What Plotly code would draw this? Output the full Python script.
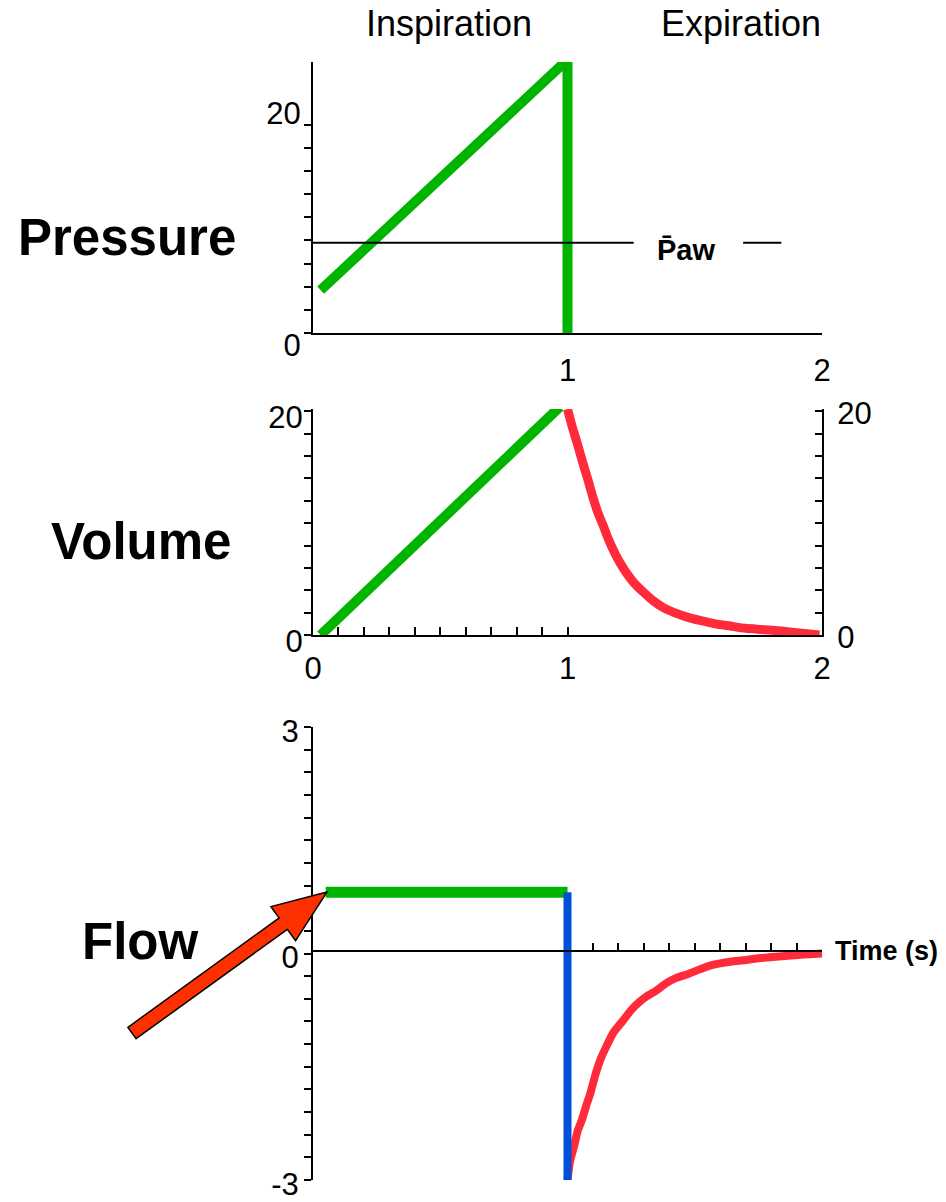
import numpy as np
import plotly.graph_objects as go

# ---------------- data ----------------
# Pressure (inspiration ramp, then drop at t = 1 s)
p_time = [0.03, 1.0, 1.0]
p_vals = [3.7, 23.6, 0.0]
paw_level = 7.8
paw_x1 = [0.0, 1.26]
paw_x2 = [1.69, 1.84]

# Volume
v_insp_time = [0.03, 0.97]
v_insp_vals = [0.0, 20.4]
v_exp_time = [1.00, 1.02, 1.04, 1.06, 1.08, 1.10, 1.12, 1.14, 1.16, 1.18, 1.20,
              1.23, 1.26, 1.30, 1.34, 1.38, 1.42, 1.47, 1.52, 1.58, 1.64, 1.70,
              1.76, 1.82, 1.88, 1.94, 1.99]
v_exp_vals = [20.2, 18.5, 17.0, 15.4, 13.9, 12.3, 10.9, 9.8, 8.6, 7.6, 6.7,
              5.6, 4.7, 3.8, 3.0, 2.4, 2.0, 1.6, 1.3, 1.0, 0.8, 0.6,
              0.5, 0.4, 0.25, 0.12, 0.0]

# Flow
f_insp_time = [0.05, 1.0]
f_insp_vals = [0.81, 0.81]
f_drop_time = [1.0, 1.0]
f_drop_vals = [0.81, -3.05]
f_exp_time = [1.00, 1.01, 1.026, 1.04, 1.057, 1.075, 1.09, 1.11, 1.13, 1.15, 1.18,
              1.22, 1.25, 1.28, 1.31, 1.345, 1.39, 1.43, 1.475, 1.52, 1.56, 1.62,
              1.69, 1.76, 1.83, 1.905, 1.95, 2.0]
f_exp_vals = [-3.0, -2.75, -2.55, -2.35, -2.2, -2.0, -1.85, -1.6, -1.4, -1.25, -1.05,
              -0.88, -0.75, -0.65, -0.57, -0.5, -0.39, -0.32, -0.27, -0.21, -0.16, -0.12,
              -0.09, -0.06, -0.04, -0.02, -0.01, 0.0]

# ---------------- styling ----------------
W, H = 946, 1202
GREEN = "#00B400"
RED = "#FF2B3A"
BLUE = "#0050D8"
ARROW = "#FF3000"
FONT = "Liberation Sans, Arial, sans-serif"
TICKFONT = dict(family=FONT, size=31, color="black")


def px_x(px):
    return px / W


def px_y(py):
    return 1 - py / H


xdom = [px_x(313), px_x(822)]

fig = go.Figure()

# Pressure panel
fig.add_trace(go.Scatter(x=p_time, y=p_vals, mode="lines",
                         line=dict(color=GREEN, width=10), xaxis="x", yaxis="y"))
fig.add_trace(go.Scatter(x=paw_x1 + [None] + paw_x2,
                         y=[paw_level, paw_level, None, paw_level, paw_level],
                         mode="lines", line=dict(color="black", width=2),
                         xaxis="x", yaxis="y"))

# Volume panel
fig.add_trace(go.Scatter(x=v_insp_time, y=v_insp_vals, mode="lines",
                         line=dict(color=GREEN, width=10), xaxis="x2", yaxis="y2"))
fig.add_trace(go.Scatter(x=v_exp_time, y=v_exp_vals, mode="lines",
                         line=dict(color=RED, width=9, shape="spline", smoothing=0.6),
                         xaxis="x2", yaxis="y2"))

# Flow panel
fig.add_trace(go.Scatter(x=f_insp_time, y=f_insp_vals, mode="lines",
                         line=dict(color=GREEN, width=11), xaxis="x3", yaxis="y3"))
fig.add_trace(go.Scatter(x=f_exp_time, y=f_exp_vals, mode="lines",
                         line=dict(color=RED, width=8, shape="spline", smoothing=0.6),
                         xaxis="x3", yaxis="y3"))
fig.add_trace(go.Scatter(x=f_drop_time, y=f_drop_vals, mode="lines",
                         line=dict(color=BLUE, width=8), xaxis="x3", yaxis="y3"))

axis_common = dict(showgrid=False, zeroline=False, showline=True, linecolor="black",
                   linewidth=2, tickcolor="black", tickwidth=2, tickfont=TICKFONT,
                   automargin=False, ticklabeloverflow="allow")

p_minor = [float(v) for v in np.arange(0, 19, 2)]
v_ticks = [float(v) for v in np.arange(0, 21, 2)]
v_text = ["0"] + [""] * 9 + ["20"]
vx_ticks = [round(v, 1) for v in np.arange(0, 1.01, 0.1)] + [2.0]
vx_text = ["0"] + [""] * 9 + ["1", "2"]
f_ticks = [round(v, 1) for v in np.arange(-3, 3.01, 0.3)]
f_text = ["-3" if abs(v + 3) < 1e-9 else ("0" if abs(v) < 1e-9 else ("3" if abs(v - 3) < 1e-9 else "")) for v in f_ticks]
fx_ticks = [round(v, 1) for v in np.arange(1.1, 2.01, 0.1)]

fig.update_layout(
    width=W, height=H, autosize=False,
    margin=dict(l=0, r=0, t=0, b=0, pad=0, autoexpand=False),
    paper_bgcolor="white", plot_bgcolor="rgba(0,0,0,0)",
    showlegend=False,
    xaxis=dict(axis_common, domain=xdom, range=[0, 2], anchor="y", ticks="",
               tickvals=[1, 2], ticktext=["1", "2"], ticklabelstandoff=9),
    yaxis=dict(axis_common, domain=[px_y(333), px_y(62)], range=[0, 23.4], anchor="x",
               ticks="", tickvals=[0, 20], ticktext=["0", "20"],
               ticklabelstandoff=4, ticklabelshift=12,
               minor=dict(tickvals=p_minor, ticks="outside", ticklen=7,
                          tickwidth=2, tickcolor="black")),
    xaxis2=dict(axis_common, domain=xdom, range=[0, 2], anchor="y2", ticks="inside",
                ticklen=8, tickvals=vx_ticks, ticktext=vx_text, ticklabelstandoff=5),
    yaxis2=dict(axis_common, domain=[px_y(635), px_y(409)], range=[0, 20.2], anchor="x2",
                ticks="outside", ticklen=7, tickvals=v_ticks, ticktext=v_text,
                ticklabelstandoff=-5, ticklabelshift=6),
    yaxis4=dict(axis_common, overlaying="y2", side="right", anchor="x2",
                range=[0, 20.2], ticks="inside", ticklen=7, tickvals=v_ticks,
                ticktext=v_text, ticklabelstandoff=7, ticklabelshift=2),
    xaxis3=dict(axis_common, domain=xdom, range=[0, 2], anchor="free",
                position=px_y(951), ticks="inside", ticklen=7,
                tickvals=fx_ticks, showticklabels=False),
    yaxis3=dict(axis_common, domain=[px_y(1180), px_y(727)], range=[-3, 3], anchor="x3",
                ticks="outside", ticklen=7, tickvals=f_ticks, ticktext=f_text,
                ticklabelstandoff=-1, ticklabelshift=4),
)

# dummy trace so the right volume axis is drawn
fig.add_trace(go.Scatter(x=[None], y=[None], xaxis="x2", yaxis="y4", showlegend=False))

# ---------------- text ----------------
texts = [
    ("Inspiration", 449, 24, 36, False),
    ("Expiration", 741, 24, 36, False),
    ("Pressure", 127, 237, 51, True),
    ("Volume", 141, 541, 51, True),
    ("Flow", 140, 941, 51, True),
]
for t, x, y, s, b in texts:
    fig.add_annotation(text=f"<b>{t}</b>" if b else t, x=px_x(x), y=px_y(y),
                       xref="paper", yref="paper", showarrow=False,
                       xanchor="center", yanchor="middle",
                       font=dict(family=FONT, size=s, color="black"))

fig.add_annotation(text="<b>Time (s)</b>", x=px_x(833), y=px_y(951), xref="paper",
                   yref="paper", showarrow=False, xanchor="left", yanchor="middle",
                   font=dict(family=FONT, size=27, color="black"))
fig.add_annotation(text="<b>P\u0304aw</b>", x=1.465, y=paw_level, xref="x", yref="y",
                   showarrow=False, xanchor="center", yanchor="middle", yshift=-7,
                   font=dict(family=FONT, size=29, color="black"))

# ---------------- block arrow pointing at flow onset ----------------
tail = np.array([132.0, 1033.0])
tip = np.array([327.0, 892.0])
shaft_half, head_half, head_len = 7.0, 21.0, 54.0
u = (tip - tail) / np.linalg.norm(tip - tail)
n = np.array([-u[1], u[0]])
base = tip - u * head_len
pts = [tail + n * shaft_half, base + n * shaft_half, base + n * head_half, tip,
       base - n * head_half, base - n * shaft_half, tail - n * shaft_half]
path = "M " + " L ".join(f"{px_x(p[0]):.5f},{px_y(p[1]):.5f}" for p in pts) + " Z"
fig.add_shape(type="path", path=path, xref="paper", yref="paper",
              fillcolor=ARROW, line=dict(color="black", width=1.5), layer="above")

fig.write_html(
    "out.html",
    config={"displayModeBar": False},
    post_script="document.body.style.margin='0';"
                "document.documentElement.style.overflow='hidden';",
)
